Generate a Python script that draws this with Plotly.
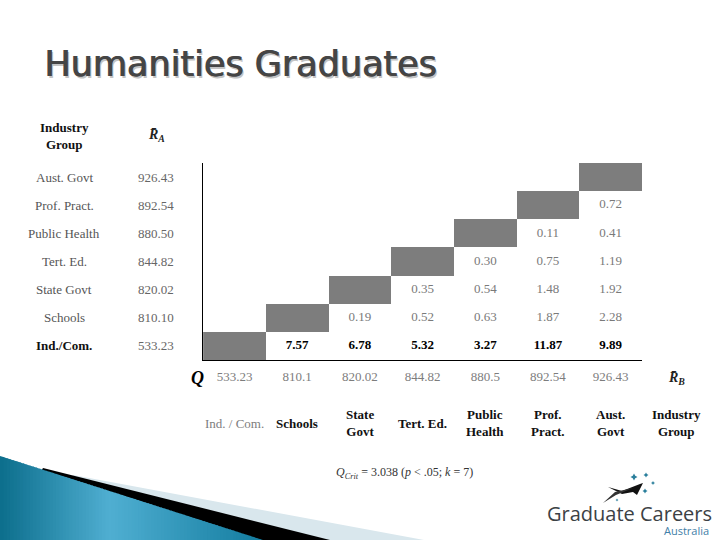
import plotly.graph_objects as go

# rows run bottom to top, columns left to right
row_names = ["Ind./Com.", "Schools", "State Govt", "Tert. Ed.", "Public Health", "Prof. Pract.", "Aust. Govt"]
row_means = ["533.23", "810.10", "820.02", "844.82", "880.50", "892.54", "926.43"]
col_means = ["533.23", "810.1", "820.02", "844.82", "880.5", "892.54", "926.43"]
col_names = ["Ind. / Com.", "Schools", "State<br>Govt", "Tert. Ed.", "Public<br>Health", "Prof.<br>Pract.", "Aust.<br>Govt"]

ind_com_q = ["7.57", "6.78", "5.32", "3.27", "11.87", "9.89"]
schools_q = ["0.19", "0.52", "0.63", "1.87", "2.28"]
state_q = ["0.35", "0.54", "1.48", "1.92"]
tert_q = ["0.30", "0.75", "1.19"]
public_q = ["0.11", "0.41"]
prof_q = ["0.72"]
q_rows = [ind_com_q, schools_q, state_q, tert_q, public_q, prof_q, []]

SERIF = "Liberation Serif"
GREY = "#7d7d7d"
W, H = 720, 540
L, R, T, B = 203, 642, 163, 360


def px_x(x):
    return (x - L) / (R - L)


def px_y(y):
    return (B - y) / (B - T)


def label(x, y, text, size=13, color="#555555", xanchor="center"):
    return dict(x=px_x(x), y=px_y(y), xref="paper", yref="paper", text=text, showarrow=False,
                xanchor=xanchor, yanchor="middle", align="center",
                font=dict(family=SERIF, size=size, color=color))


def poly(points, color):
    path = "M" + " L".join(f"{px_x(x):.5f},{px_y(y):.5f}" for x, y in points) + " Z"
    return dict(type="path", xref="paper", yref="paper", path=path, fillcolor=color, line_width=0, layer="below")


def star(x, y, r, color):
    return poly([(x, y - r), (x + r * 0.35, y - r * 0.35), (x + r, y), (x + r * 0.35, y + r * 0.35),
                 (x, y + r), (x - r * 0.35, y + r * 0.35), (x - r, y), (x - r * 0.35, y - r * 0.35)], color)


# gray diagonal cells
z = [[1 if c == r else None for c in range(7)] for r in range(7)]
fig = go.Figure(go.Heatmap(x=row_names, y=row_names, z=z, colorscale=[[0, GREY], [1, GREY]],
                           showscale=False, hoverinfo="skip"))

# q values above the diagonal
for r, vals in enumerate(q_rows):
    if not vals:
        continue
    text = [f"<b>{v}</b>" for v in vals] if r == 0 else vals
    fig.add_trace(go.Scatter(x=row_names[r + 1:], y=[row_names[r]] * len(vals), text=text, mode="text",
                             textposition="middle center", hoverinfo="skip",
                             textfont=dict(family=SERIF, size=13, color="#000000" if r == 0 else "#7a7a7a")))

annotations = []
shapes = []

# title with its soft shadow, dark copies doubled to thicken the strokes
for dx, dy, col in ((2, 2, "#c4c4c4"), (0, 0, "#454545"), (0.6, 0, "#454545")):
    annotations.append(dict(x=px_x(42 + dx), y=px_y(64 + dy), xref="paper", yref="paper",
                            text="Humanities Graduates", showarrow=False, xanchor="left", yanchor="middle",
                            font=dict(family="DejaVu Sans", size=35, color=col)))

annotations.append(label(64, 136, "<b>Industry<br>Group</b>", color="#111111"))
annotations.append(label(156, 135, "<b><i>R\u0304<sub>A</sub></i></b>", size=14, color="#222222"))

for r in range(7):
    bold = r == 0
    name = f"<b>{row_names[r]}</b>" if bold else row_names[r]
    annotations.append(dict(x=px_x(64), y=row_names[r], xref="paper", yref="y", text=name, showarrow=False,
                            xanchor="center", yanchor="middle",
                            font=dict(family=SERIF, size=13, color="#111111" if bold else "#555555")))
    annotations.append(dict(x=px_x(156), y=row_names[r], xref="paper", yref="y", text=row_means[r], showarrow=False,
                            xanchor="center", yanchor="middle",
                            font=dict(family=SERIF, size=13, color="#666666")))

for c in range(7):
    txt = col_names[c] if c == 0 else f"<b>{col_names[c]}</b>"
    annotations.append(dict(x=row_names[c], y=px_y(423), xref="x", yref="paper", text=txt, showarrow=False,
                            align="center", xanchor="center", yanchor="middle",
                            font=dict(family=SERIF, size=13, color=GREY if c == 0 else "#111111")))

annotations.append(label(197, 378, "<b><i>Q</i></b>", size=18, color="#000000"))
annotations.append(label(676, 378, "<b><i>R\u0304<sub>B</sub></i></b>", size=14, color="#222222"))
annotations.append(label(676, 423, "<b>Industry<br>Group</b>", color="#111111"))
annotations.append(label(404, 473, "<i>Q<sub>Crit</sub></i> = 3.038 (<i>p</i> &lt; .05; <i>k</i> = 7)", size=12, color="#333333"))

# logo
annotations.append(dict(x=px_x(545), y=px_y(513), xref="paper", yref="paper", text="Graduate Careers", showarrow=False,
                        xanchor="left", yanchor="middle", font=dict(family="Open Sans", size=20, color="#3c4145")))
annotations.append(dict(x=px_x(711), y=px_y(530), xref="paper", yref="paper", text="Australia", showarrow=False,
                        xanchor="right", yanchor="middle", font=dict(family="Open Sans", size=11, color="#3f80a8")))
shapes.append(poly([(608, 487), (622, 491), (640, 484), (643, 483), (637, 495), (633, 492), (622, 494)], "#111111"))
shapes.append(poly([(603, 503), (615, 492), (633, 488), (616, 495)], "#333333"))
for sx, sy, sr, col in [(634, 477, 3.5, "#2a7f9c"), (646, 475, 2.5, "#2a7f9c"), (653, 483, 2, "#2a7f9c"),
                        (645, 491, 2.5, "#2a7f9c"), (617, 500, 1.5, "#2a7f9c")]:
    shapes.append(star(sx, sy, sr, col))

# corner wedges
shapes.append(poly([(73, 475), (424, 540), (0, 540)], "#d9e7ed"))
shapes.append(poly([(43, 468), (330, 540), (0, 540)], "#000000"))
band_stops = [(0, (12, 110, 140)), (110, (80, 175, 210)), (263, (20, 125, 160))]
n_bands = 80
for i in range(n_bands):
    x0 = 263 * i / n_bands
    x1 = 263 * (i + 1) / n_bands + 1
    mid = (x0 + x1) / 2
    a, b = (band_stops[0], band_stops[1]) if mid < 110 else (band_stops[1], band_stops[2])
    t = (mid - a[0]) / (b[0] - a[0])
    col = "rgb(%d,%d,%d)" % tuple(a[1][k] + (b[1][k] - a[1][k]) * t for k in range(3))
    shapes.append(poly([(x0, 456 + x0 * 84 / 263), (x1, 456 + x1 * 84 / 263), (x1, 540), (x0, 540)], col))

fig.update_layout(
    width=W, height=H, margin=dict(l=L, r=W - R, t=T, b=H - B), autosize=False,
    paper_bgcolor="white", plot_bgcolor="white", showlegend=False,
    annotations=annotations, shapes=shapes,
)
fig.update_xaxes(type="category", categoryorder="array", categoryarray=row_names, tickvals=row_names, ticktext=col_means,
                 showgrid=False, zeroline=False, showline=True, linecolor="black", linewidth=1,
                 ticks="outside", ticklen=4, tickcolor="white",
                 tickfont=dict(family=SERIF, size=13, color=GREY), fixedrange=True)
fig.update_yaxes(type="category", categoryorder="array", categoryarray=row_names, showgrid=False, zeroline=False,
                 showline=True, linecolor="black", linewidth=1, showticklabels=False, ticks="", fixedrange=True)

fig.write_html("out.html", post_script="document.body.style.margin='0';", config=dict(displayModeBar=False))
